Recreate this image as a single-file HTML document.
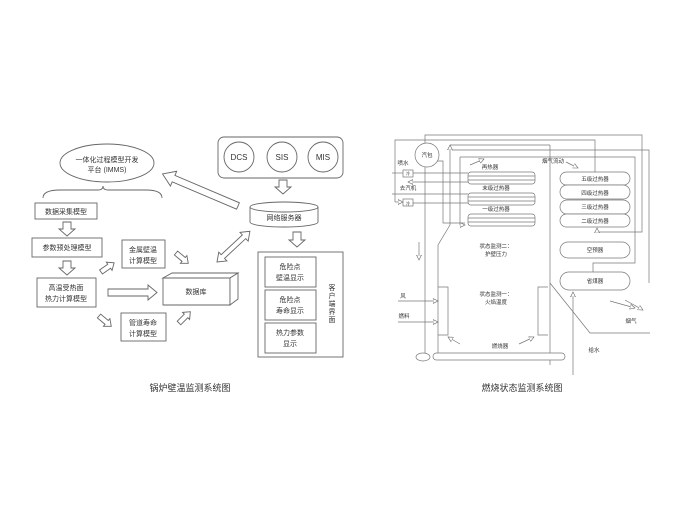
<!DOCTYPE html>
<html><head><meta charset="utf-8"><style>
html,body{margin:0;padding:0;background:#fff}
svg{display:block}
text{font-family:"Liberation Sans","Noto Sans CJK SC",sans-serif;fill:#333}
</style></head><body>
<svg width="680" height="508" viewBox="0 0 680 508" xmlns="http://www.w3.org/2000/svg">
<defs>
<marker id="ah" markerWidth="6" markerHeight="6" refX="5" refY="3" orient="auto" markerUnits="userSpaceOnUse"><path d="M0,0.5 L5,3 L0,5.5 Z" fill="#fff" stroke="#666" stroke-width="0.6"/></marker>
</defs>
<g stroke="#666" stroke-width="0.9" fill="#fff">
<!-- LEFT DIAGRAM -->
<ellipse cx="107" cy="163" rx="47" ry="19"/>
<path d="M43,198 Q43,190 60,190 L98,190 Q103,190 103,186 Q103,190 108,190 L146,190 Q162,190 162,198" fill="none"/>
<rect x="35" y="203" width="62" height="16"/>
<rect x="32" y="238" width="70" height="19"/>
<rect x="37" y="278" width="59" height="29"/>
<rect x="122" y="240" width="43" height="28"/>
<rect x="121" y="313" width="45" height="28"/>
<!-- db 3D -->
<path d="M163,278 L230,278 L230,305 L163,305 Z"/>
<path d="M163,278 L172,273 L238,273 L230,278 Z"/>
<path d="M230,278 L238,273 L238,299 L230,305 Z"/>
<!-- hollow down arrows -->
<path d="M63,222 L71,222 L71,229 L75,229 L67,236 L59,229 L63,229 Z"/>
<path d="M63,261 L71,261 L71,268 L75,268 L67,275 L59,268 L63,268 Z"/>
<path d="M279,180 L287,180 L287,187 L291,187 L283,194 L275,187 L279,187 Z"/>
<path d="M293,232 L301,232 L301,240 L305,240 L297,247 L289,240 L293,240 Z"/>
<!-- big right arrow -->
<path d="M108,289 L148,289 L148,285 L157,292.5 L148,300 L148,296 L108,296 Z"/>
<!-- small diagonals -->
<g transform="translate(101,272) rotate(-35)"><path d="M0,-2.5 L10,-2.5 L10,-5 L16,0 L10,5 L10,2.5 L0,2.5 Z"/></g>
<g transform="translate(99,316) rotate(40)"><path d="M0,-2.5 L10,-2.5 L10,-5 L16,0 L10,5 L10,2.5 L0,2.5 Z"/></g>
<g transform="translate(176,253) rotate(40)"><path d="M0,-2.5 L10,-2.5 L10,-5 L16,0 L10,5 L10,2.5 L0,2.5 Z"/></g>
<g transform="translate(179,323) rotate(-45)"><path d="M0,-2.5 L10,-2.5 L10,-5 L16,0 L10,5 L10,2.5 L0,2.5 Z"/></g>
<!-- big arrow server to ellipse -->
<g transform="translate(238,206) rotate(203)"><path d="M0,-3.5 L70,-3.5 L70,-8 L82,0 L70,8 L70,3.5 L0,3.5 Z"/></g>
<!-- double arrow -->
<g transform="translate(217,262) rotate(-43)"><path d="M0,0 L8,-6 L8,-2.5 L37,-2.5 L37,-6 L45,0 L37,6 L37,2.5 L8,2.5 L8,6 Z"/></g>
<!-- top box -->
<rect x="218" y="137" width="125" height="41" rx="6"/>
<circle cx="239" cy="157" r="15"/>
<circle cx="282" cy="157" r="15"/>
<circle cx="323" cy="157" r="15"/>
<!-- cylinder -->
<path d="M250,207 L250,222 A34,5 0 0 0 318,222 L318,207"/>
<ellipse cx="284" cy="207" rx="34" ry="5"/>
<!-- client -->
<rect x="258" y="252" width="85" height="105"/>
<rect x="265" y="257" width="51" height="30"/>
<rect x="265" y="290" width="51" height="30"/>
<rect x="265" y="323" width="51" height="30"/>
</g>
<g font-size="7" text-anchor="middle">
<text x="107" y="162">一体化过程模型开发</text>
<text x="107" y="172">平台 (IMMS)</text>
<text x="66" y="214">数据采集模型</text>
<text x="67" y="250">参数预处理模型</text>
<text x="66" y="290">高温受热面</text>
<text x="66" y="301">热力计算模型</text>
<text x="143" y="252">金属壁温</text>
<text x="143" y="263">计算模型</text>
<text x="143" y="325">管道寿命</text>
<text x="143" y="336">计算模型</text>
<text x="196" y="294">数据库</text>
<text x="239" y="160" font-size="8">DCS</text>
<text x="282" y="160" font-size="8">SIS</text>
<text x="323" y="160" font-size="8">MIS</text>
<text x="284" y="220">网络服务器</text>
<text x="290" y="269">危险点</text>
<text x="290" y="280">壁温显示</text>
<text x="290" y="302">危险点</text>
<text x="290" y="313">寿命显示</text>
<text x="290" y="335">热力参数</text>
<text x="290" y="346">显示</text>
<text x="332" y="290">客</text><text x="332" y="298">户</text><text x="332" y="306">端</text><text x="332" y="314">界</text><text x="332" y="322">面</text>
<text x="190" y="391" font-size="9">锅炉壁温监测系统图</text>
<text x="522" y="391" font-size="9">燃烧状态监测系统图</text>
</g>

<!-- RIGHT DIAGRAM -->
<g stroke="#777" stroke-width="0.7" fill="none">
<path d="M425,155 L425,135 L642,135 L642,232 L597,232" />
<path d="M597,232 L597,228" marker-end="url(#ah)"/>
<path d="M395,202 L395,140 L595,140 L595,172"/>
<path d="M395,202 L403,202" marker-end="url(#ah)"/>
<path d="M550,145 L550,365"/>
<path d="M450,145 L550,145"/>
<path d="M450,225 L450,145" marker-end="url(#ah)"/>
<path d="M450,225 L438,245 L438,353"/>
<path d="M452,150 L649,150 L649,283"/>
<path d="M460,157 L635,157 L635,263 L593,263 L593,272"/>
<path d="M460,157 L460,225 L465,225" marker-end="url(#ah)"/>
<path d="M437,161 L443,161 L443,223 L465,223"/>
<path d="M425,167 L425,353"/>
<path d="M392,173 L403,173"/>
<path d="M413,173 L468,173"/>
<path d="M468,182 L408,182" marker-end="url(#ah)"/>
<path d="M392,194 L468,194"/>
<path d="M413,203 L468,203"/>
<path d="M419,242 L419,260" marker-end="url(#ah)"/>
<path d="M398,301 L438,301" marker-end="url(#ah)"/>
<path d="M398,322 L438,322" marker-end="url(#ah)"/>
<path d="M550,283 L590,333 L650,333"/>
<path d="M573,375 L573,292" marker-end="url(#ah)"/>
<path d="M470,165 L484,159" marker-end="url(#ah)"/>
<path d="M566,162 L578,168" marker-end="url(#ah)"/>
<path d="M610,301 L635,308" marker-end="url(#ah)"/>
<path d="M625,300 L643,310" marker-end="url(#ah)"/>
<path d="M460,344 L448,337" marker-end="url(#ah)"/>
<path d="M519,344 L534,337" marker-end="url(#ah)"/>
</g>
<g stroke="#777" stroke-width="0.7" fill="#fff">
<circle cx="427" cy="155" r="12"/>
<rect x="403" y="170" width="10" height="7"/>
<rect x="403" y="199" width="10" height="7"/>
<rect x="468" y="172" width="67" height="12" rx="3"/>
<rect x="468" y="193" width="67" height="12" rx="3"/>
<rect x="468" y="214" width="67" height="12" rx="3"/>
<path d="M468,176 L535,176 M468,180 L535,180 M468,197 L535,197 M468,201 L535,201 M468,218 L535,218 M468,222 L535,222" fill="none"/>
<rect x="560" y="172" width="70" height="13" rx="6.5"/>
<rect x="560" y="185" width="70" height="14" rx="7"/>
<rect x="560" y="200" width="70" height="14" rx="7"/>
<rect x="560" y="214" width="70" height="13" rx="6.5"/>
<rect x="560" y="242" width="70" height="16" rx="8"/>
<rect x="560" y="272" width="70" height="18" rx="9"/>
<path d="M438,287 L448,287 L448,335 L438,335 M548,287 L538,287 L538,335 L548,335" fill="none"/>
<rect x="433" y="353" width="132" height="7" rx="3.5"/>
<ellipse cx="423" cy="357" rx="7" ry="4"/>
</g>
<g font-size="5.5" text-anchor="middle">
<text x="427" y="157">汽包</text>
<text x="408" y="175" font-size="4">冷</text>
<text x="408" y="205" font-size="4">冷</text>
<text x="403" y="165">喷水</text>
<text x="408" y="190">去汽机</text>
<text x="490" y="169">再热器</text>
<text x="496" y="190">末级过热器</text>
<text x="496" y="211">一级过热器</text>
<text x="553" y="163">烟气流动</text>
<text x="595" y="181">五级过热器</text>
<text x="595" y="195">四级过热器</text>
<text x="595" y="209">三级过热器</text>
<text x="595" y="223">二级过热器</text>
<text x="595" y="252">空预器</text>
<text x="595" y="283">省煤器</text>
<text x="496" y="248">状态监测二：</text>
<text x="496" y="256">护壁压力</text>
<text x="496" y="296">状态监测一：</text>
<text x="496" y="304">火焰温度</text>
<text x="500" y="348">燃烧器</text>
<text x="403" y="298">风</text>
<text x="404" y="318">燃料</text>
<text x="631" y="323">烟气</text>
<text x="594" y="352">给水</text>
</g>
</svg>
</body></html>
